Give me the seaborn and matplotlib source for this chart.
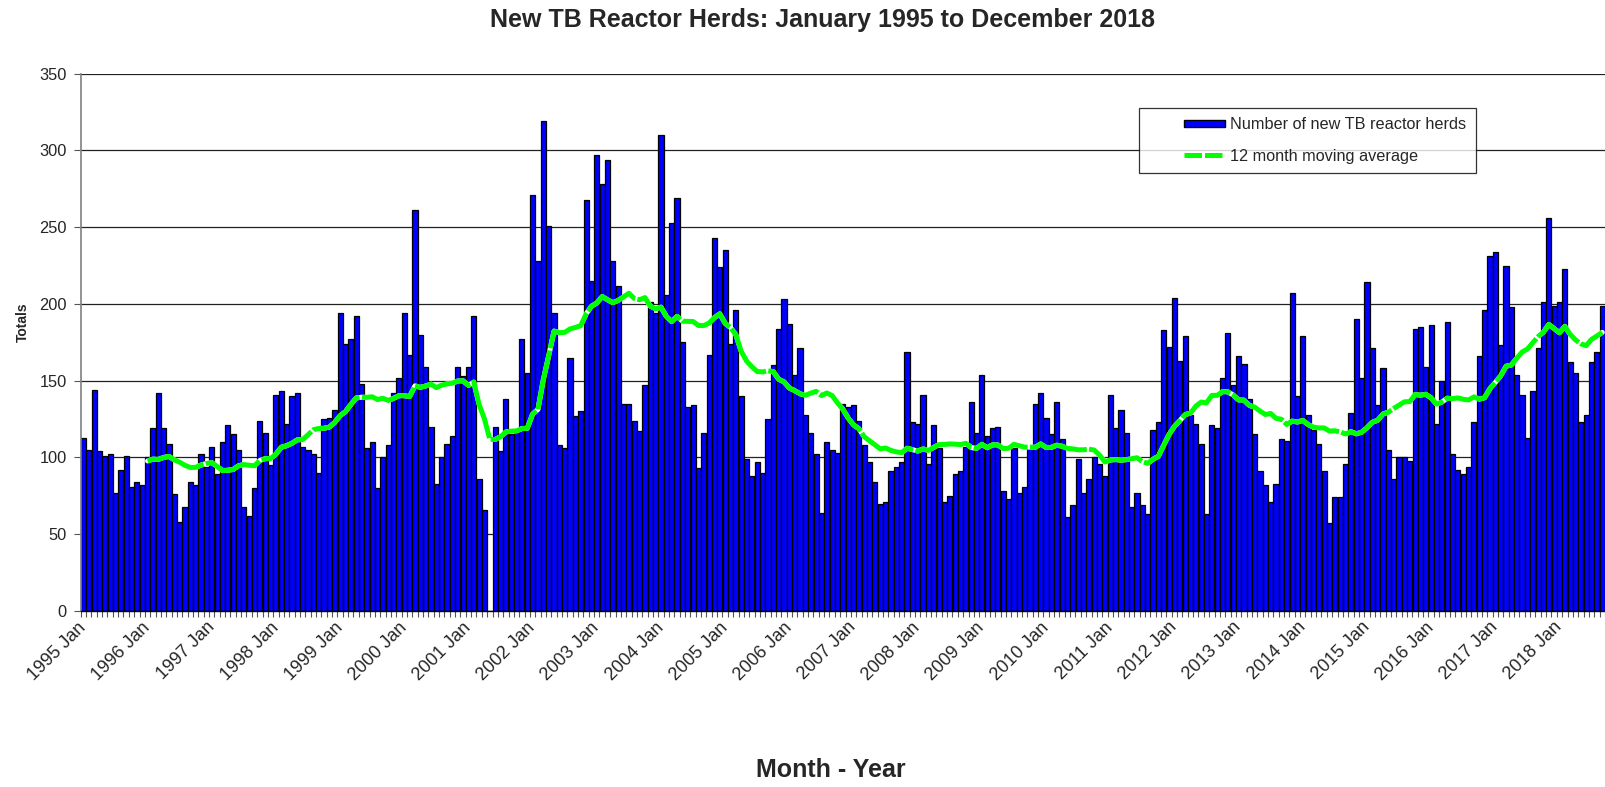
import numpy as np
import pandas as pd
import matplotlib
matplotlib.use("Agg")
import matplotlib.pyplot as plt
import seaborn as sns
from matplotlib.patches import Patch, Rectangle
from matplotlib.lines import Line2D
from matplotlib.legend_handler import HandlerBase
import matplotlib.transforms as mtransforms

sns.set_theme(style="white")
plt.rcParams['font.family'] = ['Liberation Sans', 'DejaVu Sans']

# ---------------- data ----------------
years = list(range(1995, 2019))
month_names = ["Jan", "Feb", "Mar", "Apr", "May", "Jun",
               "Jul", "Aug", "Sep", "Oct", "Nov", "Dec"]
month_labels = [f"{y} {m}" for y in years for m in month_names]

herds_1995 = [113, 105, 144, 104, 101, 102, 77, 92, 101, 81, 84, 82]
herds_1996 = [100, 119, 142, 119, 109, 76, 58, 68, 84, 82, 102, 94]
herds_1997 = [107, 89, 110, 121, 115, 105, 68, 62, 80, 124, 116, 95]
herds_1998 = [141, 143, 122, 140, 142, 107, 105, 102, 90, 125, 126, 131]
herds_1999 = [194, 174, 177, 192, 148, 106, 110, 80, 100, 108, 142, 152]
herds_2000 = [194, 167, 261, 180, 159, 120, 83, 100, 109, 114, 159, 153]
herds_2001 = [159, 192, 86, 66, 0, 120, 104, 138, 115, 116, 177, 155]
herds_2002 = [271, 228, 319, 251, 194, 108, 106, 165, 127, 130, 268, 215]
herds_2003 = [297, 278, 294, 228, 212, 135, 135, 124, 117, 147, 201, 194]
herds_2004 = [310, 206, 253, 269, 175, 133, 134, 93, 116, 167, 243, 224]
herds_2005 = [235, 174, 196, 140, 99, 88, 97, 90, 125, 160, 184, 203]
herds_2006 = [187, 154, 171, 128, 116, 102, 64, 110, 105, 103, 135, 133]
herds_2007 = [134, 124, 108, 97, 84, 70, 71, 91, 94, 97, 169, 123]
herds_2008 = [122, 141, 96, 121, 106, 71, 75, 89, 91, 107, 136, 116]
herds_2009 = [154, 114, 119, 120, 78, 73, 106, 77, 81, 107, 135, 142]
herds_2010 = [126, 115, 136, 112, 61, 69, 99, 77, 86, 100, 96, 88]
herds_2011 = [141, 119, 131, 116, 68, 77, 69, 63, 118, 123, 183, 172]
herds_2012 = [204, 163, 179, 128, 122, 109, 63, 121, 119, 152, 181, 147]
herds_2013 = [166, 161, 138, 115, 91, 82, 71, 83, 112, 111, 207, 140]
herds_2014 = [179, 128, 118, 109, 91, 57, 74, 74, 96, 129, 190, 152]
herds_2015 = [214, 171, 134, 158, 105, 86, 100, 100, 98, 184, 185, 159]
herds_2016 = [186, 122, 150, 188, 102, 92, 89, 94, 123, 166, 196, 231]
herds_2017 = [234, 173, 225, 198, 154, 141, 113, 143, 171, 201, 256, 199]
herds_2018 = [201, 223, 162, 155, 123, 128, 162, 169, 199]   # later months fall outside the picture

herds = (herds_1995 + herds_1996 + herds_1997 + herds_1998 + herds_1999 +
         herds_2000 + herds_2001 + herds_2002 + herds_2003 + herds_2004 +
         herds_2005 + herds_2006 + herds_2007 + herds_2008 + herds_2009 +
         herds_2010 + herds_2011 + herds_2012 + herds_2013 + herds_2014 +
         herds_2015 + herds_2016 + herds_2017 + herds_2018)

y_ticks = [0, 50, 100, 150, 200, 250, 300, 350]
title = "New TB Reactor Herds: January 1995 to December 2018"
bar_label = "Number of new TB reactor herds"
line_label = "12 month moving average"

df = pd.DataFrame({"month": month_labels[:len(herds)], "herds": herds})
df["pos"] = np.arange(len(df))
df["ma"] = df["herds"].rolling(12).mean()
df.loc[df["pos"] < 12, "ma"] = np.nan

# ---------------- figure ----------------
W, H = 1605, 787
fig = plt.figure(figsize=(W / 100, H / 100), dpi=100)
left_px, right_px = 80.7, 1621.0
top_px, bot_px = 73.7, 611.0
ax = fig.add_axes([left_px / W, 1 - bot_px / H,
                   (right_px - left_px) / W, (bot_px - top_px) / H])

BLUE = "#0000FF"
GREEN = "#00FF00"
LW = 3.6
DASH = (0, (12, 0.45))

sns.barplot(data=df, x="month", y="herds", order=month_labels,
            color=BLUE, saturation=1, edgecolor="black", linewidth=0.9,
            width=0.96, errorbar=None, ax=ax, zorder=2)

sns.lineplot(data=df, x="pos", y="ma", color="white", linewidth=LW,
             ax=ax, zorder=3, legend=False)
sns.lineplot(data=df, x="pos", y="ma", color=GREEN, linewidth=LW,
             linestyle=DASH, ax=ax, zorder=4, legend=False)

ax.set_xlim(-0.5, len(month_labels) - 0.5)
ax.set_ylim(0, 350)
ax.set_yticks(y_ticks)
ax.set_yticklabels([str(v) for v in y_ticks], fontsize=11.8)

jan_pos = np.arange(0, len(month_labels), 12)
ax.set_xticks(jan_pos)
ax.set_xticklabels([month_labels[i] for i in jan_pos], rotation=45,
                   ha="right", va="center", rotation_mode="anchor",
                   fontsize=13)
shift = mtransforms.ScaledTranslation(-5.5 / 100, 0, fig.dpi_scale_trans)
for lab in ax.get_xticklabels():
    lab.set_transform(lab.get_transform() + shift)
ax.set_xticks(np.arange(-0.5, len(month_labels), 1), minor=True)
ax.tick_params(axis="x", which="major", length=0, pad=10)
ax.tick_params(axis="x", which="minor", length=4, width=0.8, color="#555555",
               direction="out", bottom=True)
ax.tick_params(axis="y", which="major", length=5, width=0.8, color="#555555",
               direction="out", left=True, pad=5)

ax.set_axisbelow(True)
ax.yaxis.grid(True, color="#222222", linewidth=0.9)
ax.xaxis.grid(False)
for s in ["top", "right"]:
    ax.spines[s].set_visible(False)
ax.spines["left"].set_color("#808080")
ax.spines["left"].set_linewidth(1.2)
ax.spines["bottom"].set_color("black")
ax.spines["bottom"].set_linewidth(1.0)
ax.set_xlabel("")
ax.set_ylabel("")

fig.text(822 / W, 1 - 19.5 / H, title, ha="center", va="center",
         fontsize=18, fontweight="bold")
fig.text(831 / W, 1 - 770 / H, "Month - Year", ha="center", va="center",
         fontsize=18, fontweight="bold")
fig.text(23 / W, 1 - 322 / H, "Totals", ha="center", va="center",
         rotation=90, fontsize=10, fontweight="bold")


# legend handles drawn in the right part of a wide handle box (Excel look)
FRAC = 0.54


class RightRect(HandlerBase):
    def create_artists(self, legend, orig_handle, xdescent, ydescent,
                       width, height, fontsize, trans):
        x0 = -xdescent + width * (1 - FRAC)
        r = Rectangle((x0, -ydescent + height * 0.12), width * FRAC,
                      height * 0.76, facecolor=BLUE, edgecolor="black",
                      linewidth=1.0, transform=trans)
        return [r]


class RightLine(HandlerBase):
    def create_artists(self, legend, orig_handle, xdescent, ydescent,
                       width, height, fontsize, trans):
        x0 = -xdescent + width * (1 - FRAC)
        y = -ydescent + height / 2
        ln = Line2D([x0, x0 + width * FRAC], [y, y], color=GREEN,
                    linewidth=LW, linestyle=(0, (3.5, 0.6)), transform=trans)
        return [ln]


h_bar = Patch(facecolor=BLUE, edgecolor="black")
h_line = Line2D([0], [0], color=GREEN)
leg = fig.legend([h_bar, h_line], [bar_label, line_label], loc="upper left",
                 bbox_to_anchor=(1139.3 / W, 1 - 107.5 / H),
                 bbox_transform=fig.transFigure, frameon=True, fancybox=False,
                 edgecolor="black", fontsize=11.7, handlelength=4.7,
                 handleheight=0.55, borderpad=0.6, labelspacing=1.0,
                 handletextpad=0.3, borderaxespad=0,
                 handler_map={Patch: RightRect(), Line2D: RightLine()})
leg.get_frame().set_linewidth(0.9)

fig.savefig("out.png", dpi=100)
